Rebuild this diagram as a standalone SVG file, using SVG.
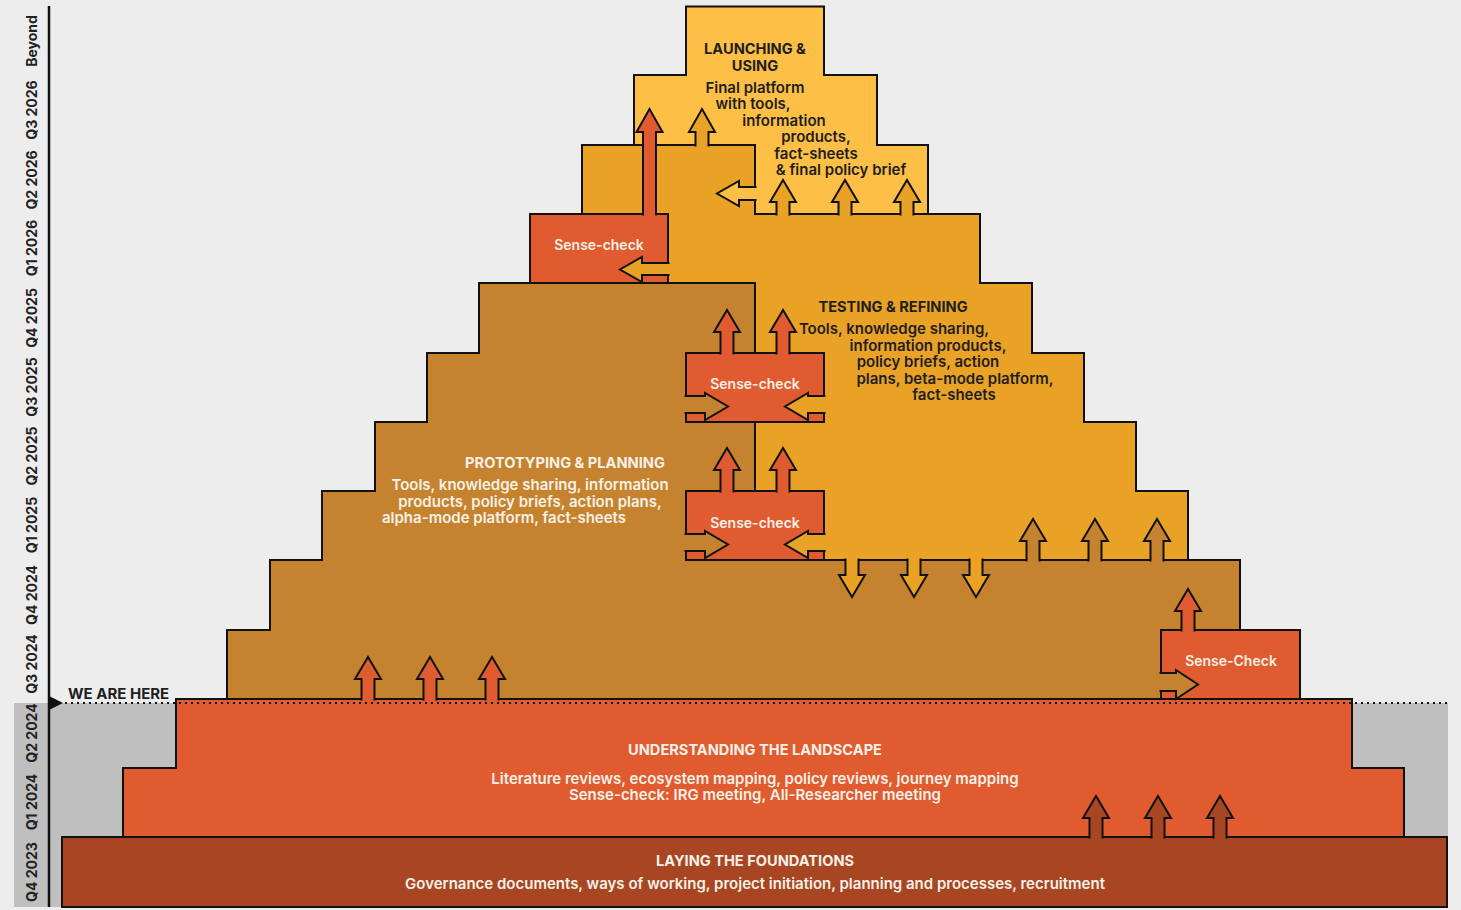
<svg xmlns="http://www.w3.org/2000/svg" width="1461" height="910" viewBox="0 0 1461 910">
  <style>
    .edge{stroke:#111;stroke-width:2;stroke-linejoin:miter}
    .found{fill:#a84522}
    .land{fill:#e05b2f}
    .proto{fill:#c5832f}
    .test{fill:#e9a225}
    .launch{fill:#fdbf45}
    .check{fill:#e05b2f}
    text{font-family:Inter,"Noto Sans","Liberation Sans",sans-serif;font-weight:600;font-size:15px;text-anchor:middle}
    .lt{fill:#f8f1e7}
    .dk{fill:#1e1e1e}
    .ttl{font-weight:700;font-size:14.6px}
    .gate{font-size:14px}
    .qlabel{font-weight:700;font-size:14px;fill:#222}
  </style>

  <!-- page background and the past-quarters band -->
  <rect x="0" y="0" width="1461" height="910" fill="#ededed"/>
  <rect x="14" y="703" width="1434" height="204" fill="#bfbfbf"/>

  <!-- timeline axis -->
  <g id="timeline">
    <line x1="49" y1="6" x2="49" y2="907" stroke="#111" stroke-width="2.5"/>
    <text class="qlabel" transform="translate(37,41) rotate(-90)">Beyond</text>
    <text class="qlabel" transform="translate(37,110) rotate(-90)">Q3 2026</text>
    <text class="qlabel" transform="translate(37,180) rotate(-90)">Q2 2026</text>
    <text class="qlabel" transform="translate(37,248) rotate(-90)">Q1 2026</text>
    <text class="qlabel" transform="translate(37,318) rotate(-90)">Q4 2025</text>
    <text class="qlabel" transform="translate(37,387) rotate(-90)">Q3 2025</text>
    <text class="qlabel" transform="translate(37,456) rotate(-90)">Q2 2025</text>
    <text class="qlabel" transform="translate(37,525) rotate(-90)">Q1 2025</text>
    <text class="qlabel" transform="translate(37,595) rotate(-90)">Q4 2024</text>
    <text class="qlabel" transform="translate(37,664) rotate(-90)">Q3 2024</text>
    <text class="qlabel" transform="translate(37,733) rotate(-90)">Q2 2024</text>
    <text class="qlabel" transform="translate(37,802) rotate(-90)">Q1 2024</text>
    <text class="qlabel" transform="translate(37,872) rotate(-90)">Q4 2023</text>
  </g>

  <!-- stage 1 -->
  <g id="foundations">
    <rect class="edge found" x="62" y="837" width="1385" height="70"/>
    <text class="lt ttl" x="755" y="866">LAYING THE FOUNDATIONS</text>
    <text class="lt" x="755" y="889">Governance documents, ways of working, project initiation, planning and processes, recruitment</text>
  </g>

  <!-- stage 2 -->
  <g id="landscape">
    <path class="edge land" d="M123,837 V768 H176 V699 H1352 V768 H1404 V837 Z"/>
    <text class="lt ttl" x="755" y="755">UNDERSTANDING THE LANDSCAPE</text>
    <text class="lt" x="755" y="784">Literature reviews, ecosystem mapping, policy reviews, journey mapping</text>
    <text class="lt" x="755" y="800">Sense-check: IRG meeting, All-Researcher meeting</text>
  </g>

  <!-- stage 4 (drawn before stage 3 so the shared edge sits cleanly) -->
  <g id="testing">
    <path class="edge test" d="M582,145 H755 V214 H980 V283 H1032 V353 H1084 V422 H1136 V491 H1188 V560 H755 V283 H668 V214 H582 Z"/>
    <text class="dk ttl" x="893" y="312">TESTING &amp; REFINING</text>
    <text class="dk" x="894" y="334">Tools, knowledge sharing,</text>
    <text class="dk" x="928" y="351">information products,</text>
    <text class="dk" x="928" y="367">policy briefs, action</text>
    <text class="dk" x="955" y="384">plans, beta-mode platform,</text>
    <text class="dk" x="954" y="400">fact-sheets</text>
  </g>

  <!-- stage 3 -->
  <g id="prototyping">
    <path class="edge proto" d="M227,699 V630 H270 V560 H322 V491 H375 V422 H427 V353 H479 V283 H755 V560 H1240 V699 Z"/>
    <text class="lt ttl" x="565" y="468">PROTOTYPING &amp; PLANNING</text>
    <text class="lt" x="530" y="490">Tools, knowledge sharing, information</text>
    <text class="lt" x="530" y="507">products, policy briefs, action plans,</text>
    <text class="lt" x="504" y="523">alpha-mode platform, fact-sheets</text>
  </g>

  <!-- stage 5 -->
  <g id="launching">
    <path class="edge launch" d="M686,6.5 H824 V75 H877 V145 H928 V214 H755 V145 H634 V75 H686 Z"/>
    <text class="dk ttl" x="755" y="54">LAUNCHING &amp;</text>
    <text class="dk ttl" x="755" y="71">USING</text>
    <text class="dk" x="755" y="93">Final platform</text>
    <text class="dk" x="753" y="109">with tools,</text>
    <text class="dk" x="784" y="126">information</text>
    <text class="dk" x="816" y="142">products,</text>
    <text class="dk" x="816" y="159">fact-sheets</text>
    <text class="dk" x="841" y="175">&amp; final policy brief</text>
  </g>

  <!-- sense-check gates -->
  <g id="check-q3-2024">
    <rect class="edge check" x="1161" y="630" width="139" height="69"/>
    <text class="lt gate" x="1231" y="666">Sense-Check</text>
  </g>
  <g id="check-q1-2025">
    <rect class="edge check" x="686" y="491" width="138" height="69"/>
    <text class="lt gate" x="755" y="528">Sense-check</text>
  </g>
  <g id="check-q3-2025">
    <rect class="edge check" x="686" y="353" width="138" height="69"/>
    <text class="lt gate" x="755" y="389">Sense-check</text>
  </g>
  <g id="check-q1-2026">
    <rect class="edge check" x="530" y="214" width="138" height="69"/>
    <text class="lt gate" x="599" y="250">Sense-check</text>
  </g>

  <!-- block arrows between stages -->
  <g id="connectors">
    <!-- landscape feeding prototyping -->
    <path class="edge land" d="M361.5,700.5 V679 H355 L368,657 L381,679 H374.5 V700.5"/>
    <path class="edge land" d="M423.5,700.5 V679 H417 L430,657 L443,679 H436.5 V700.5"/>
    <path class="edge land" d="M485.5,700.5 V679 H479 L492,657 L505,679 H498.5 V700.5"/>
    <!-- foundations feeding landscape -->
    <path class="edge found" d="M1089.5,838.5 V818 H1083 L1096,796 L1109,818 H1102.5 V838.5"/>
    <path class="edge found" d="M1151.5,838.5 V818 H1145 L1158,796 L1171,818 H1164.5 V838.5"/>
    <path class="edge found" d="M1213.5,838.5 V818 H1207 L1220,796 L1233,818 H1226.5 V838.5"/>
    <!-- prototyping feeding testing -->
    <path class="edge proto" d="M1026.5,561.5 V541 H1020 L1033,519 L1046,541 H1039.5 V561.5"/>
    <path class="edge proto" d="M1088.5,561.5 V541 H1082 L1095,519 L1108,541 H1101.5 V561.5"/>
    <path class="edge proto" d="M1150.5,561.5 V541 H1144 L1157,519 L1170,541 H1163.5 V561.5"/>
    <!-- testing feeding back into prototyping -->
    <path class="edge test" d="M845.5,558.5 V575 H839 L852,597 L865,575 H858.5 V558.5"/>
    <path class="edge test" d="M907.5,558.5 V575 H901 L914,597 L927,575 H920.5 V558.5"/>
    <path class="edge test" d="M969.5,558.5 V575 H963 L976,597 L989,575 H982.5 V558.5"/>
    <!-- Q3 2024 gate -->
    <path class="edge check" d="M1181.5,631.5 V611 H1175 L1188,589 L1201,611 H1194.5 V631.5"/>
    <path class="edge proto" d="M1159.5,673 H1176 V670 L1198,684.5 L1176,699 V691 H1159.5"/>
    <!-- Q1 2025 gate -->
    <path class="edge check" d="M720.5,492.5 V470 H714 L727,448 L740,470 H733.5 V492.5"/>
    <path class="edge check" d="M776.5,492.5 V470 H770 L783,448 L796,470 H789.5 V492.5"/>
    <path class="edge proto" d="M684.5,534 H705 V531 L728,544.5 L705,558 V551 H684.5"/>
    <path class="edge test" d="M825.5,534 H808 V531 L785,544.5 L808,558 V551 H825.5"/>
    <!-- Q3 2025 gate -->
    <path class="edge check" d="M720.5,354.5 V332 H714 L727,310 L740,332 H733.5 V354.5"/>
    <path class="edge check" d="M776.5,354.5 V332 H770 L783,310 L796,332 H789.5 V354.5"/>
    <path class="edge proto" d="M684.5,396 H705 V393 L728,406.5 L705,420 V413 H684.5"/>
    <path class="edge test" d="M825.5,396 H808 V393 L785,406.5 L808,420 V413 H825.5"/>
    <!-- Q1 2026 gate -->
    <path class="edge check" d="M643,215.5 V132 H636.5 L649.5,109 L662.5,132 H656 V215.5"/>
    <path class="edge test" d="M669.5,263 H642 V257 L620,269.5 L642,282 V275 H669.5"/>
    <!-- testing feeding launching -->
    <path class="edge test" d="M695.5,146.5 V132 H689 L702,109 L715,132 H708.5 V146.5"/>
    <path class="edge test" d="M776.5,215.5 V202 H770 L783,180 L796,202 H789.5 V215.5"/>
    <path class="edge test" d="M838.5,215.5 V202 H832 L845,180 L858,202 H851.5 V215.5"/>
    <path class="edge test" d="M900.5,215.5 V202 H894 L907,180 L920,202 H913.5 V215.5"/>
    <path class="edge launch" d="M756.5,187 H739 V181 L717,193.5 L739,206 V200 H756.5"/>
  </g>

  <!-- current position marker -->
  <g id="now-marker">
    <line x1="65" y1="703" x2="1447" y2="703" stroke="#111" stroke-width="2.2" stroke-dasharray="2 4"/>
    <polygon points="49,696 63,703 49,710" fill="#111"/>
    <text class="dk ttl" x="68" y="699" style="text-anchor:start;font-size:15px">WE ARE HERE</text>
  </g>
</svg>
